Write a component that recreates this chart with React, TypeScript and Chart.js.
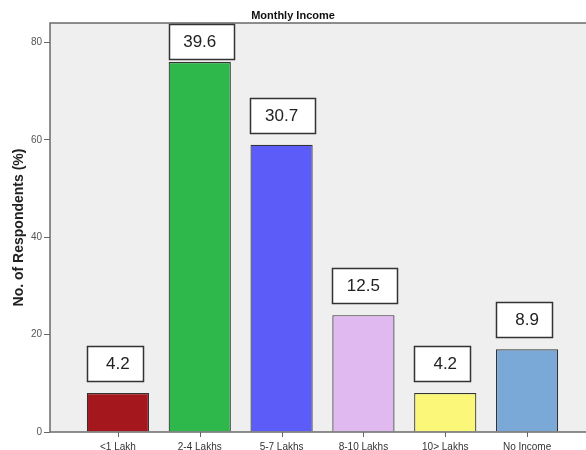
import React, { useEffect, useRef } from "react";
import { Chart, registerables } from "chart.js";

Chart.register(...registerables);

const categories = ["<1 Lakh", "2-4 Lakhs", "5-7 Lakhs", "8-10 Lakhs", "10> Lakhs", "No Income"];
const respondents = [8, 76, 59, 24, 8, 17];
const percentLabels = ["4.2", "39.6", "30.7", "12.5", "4.2", "8.9"];
const barColors = ["#a4171c", "#2eb84b", "#5c5cf8", "#e0b9f1", "#faf779", "#7aa8d7"];
const yTicks = [0, 20, 40, 60, 80];

const FONT = '"Liberation Sans", Arial, sans-serif';

const plotBackground = {
  id: "plotBackground",
  beforeDraw(chart: any) {
    const { ctx, chartArea: a } = chart;
    ctx.save();
    ctx.fillStyle = "#efefef";
    ctx.fillRect(a.left, a.top, a.right - a.left, a.bottom - a.top);
    ctx.restore();
  },
};

const plotFrame = {
  id: "plotFrame",
  afterDatasetsDraw(chart: any) {
    const { ctx, chartArea: a } = chart;
    const xs = chart.scales.x;
    ctx.save();
    ctx.strokeStyle = "#6a6a6a";
    ctx.lineWidth = 1.5;
    ctx.beginPath();
    ctx.moveTo(a.left, a.bottom);
    ctx.lineTo(a.left, a.top);
    ctx.lineTo(a.right, a.top);
    ctx.moveTo(a.left, a.bottom);
    ctx.lineTo(a.right, a.bottom);
    ctx.stroke();
    ctx.strokeStyle = "#666";
    ctx.lineWidth = 1;
    ctx.beginPath();
    categories.forEach((_, i) => {
      const px = Math.round(xs.getPixelForValue(i)) + 0.5;
      ctx.moveTo(px, a.bottom);
      ctx.lineTo(px, a.bottom + 5);
    });
    ctx.stroke();
    ctx.restore();
  },
};

const valueBoxes = {
  id: "valueBoxes",
  afterDatasetsDraw(chart: any) {
    const { ctx, chartArea: a } = chart;
    const meta = chart.getDatasetMeta(0);
    ctx.save();
    ctx.font = `17px ${FONT}`;
    meta.data.forEach((bar: any, i: number) => {
      const { x, y, width } = bar.getProps(["x", "y", "width"], true);
      const text = percentLabels[i];
      const tw = ctx.measureText(text).width;
      const bw = Math.round(tw + 32);
      const bh = 35;
      let top = Math.round(y - 12 - bh);
      if (top < a.top + 1) top = Math.round(a.top + 1);
      const left = Math.round(x - width / 2);
      ctx.fillStyle = "#ffffff";
      ctx.fillRect(left, top, bw, bh);
      ctx.strokeStyle = "#333333";
      ctx.lineWidth = 1.5;
      ctx.strokeRect(left + 0.5, top + 0.5, bw, bh);
      ctx.fillStyle = "#222222";
      ctx.textAlign = "center";
      ctx.textBaseline = "middle";
      ctx.fillText(text, x, top + bh / 2 + 1);
    });
    ctx.restore();
  },
};

export default function App() {
  const canvasRef = useRef<HTMLCanvasElement | null>(null);

  useEffect(() => {
    if (!canvasRef.current) return;
    const chart = new Chart(canvasRef.current, {
      type: "bar",
      data: {
        datasets: [
          {
            label: "Monthly Income",
            data: respondents.map((v, i) => ({ x: i, y: v })),
            backgroundColor: barColors,
            borderColor: "#333333",
            borderWidth: 1.2,
            barPercentage: 0.76,
            categoryPercentage: 1,
          },
        ],
      },
      options: {
        responsive: false,
        animation: false,
        layout: { padding: 0 },
        plugins: {
          legend: { display: false },
          tooltip: { enabled: false },
          title: {
            display: true,
            text: "Monthly Income",
            color: "#111",
            font: { family: FONT, size: 11, weight: "bold" },
            padding: { top: 9.5, bottom: 0.3 },
          },
        },
        scales: {
          x: {
            type: "linear",
            min: -0.83,
            max: 5.72,
            offset: false,
            afterBuildTicks: (scale: any) => {
              scale.ticks = categories.map((_, i) => ({ value: i }));
            },
            afterFit: (scale: any) => {
              scale.height = 18;
            },
            ticks: {
              autoSkip: false,
              maxRotation: 0,
              includeBounds: false,
              padding: 4,
              color: "#333",
              font: { family: FONT, size: 10 },
              callback: (v: any) => categories[v] ?? "",
            },
            grid: {
              display: true,
              offset: false,
              drawOnChartArea: false,
              drawTicks: true,
              tickLength: 5,
              color: "rgba(0,0,0,0)",
            },
            border: { display: false },
          },
          y: {
            min: 0,
            max: 84,
            afterBuildTicks: (scale: any) => {
              scale.ticks = yTicks.map((v) => ({ value: v }));
            },
            afterFit: (scale: any) => {
              scale.width = 50;
            },
            ticks: {
              includeBounds: false,
              padding: 2,
              color: "#555",
              font: { family: FONT, size: 10 },
            },
            grid: {
              display: true,
              drawOnChartArea: false,
              drawTicks: true,
              tickLength: 6,
              color: "#666",
            },
            border: { display: false },
            title: {
              display: true,
              text: "No. of Respondents (%)",
              color: "#222",
              font: { family: FONT, size: 14, weight: "bold" },
              padding: { top: 11, bottom: 0 },
            },
          },
        },
      },
      plugins: [plotBackground, plotFrame, valueBoxes],
    } as any);
    return () => chart.destroy();
  }, []);

  return (
    <div style={{ position: "absolute", left: 0, top: 0, width: 586, height: 450 }}>
      <canvas ref={canvasRef} width={586} height={450} style={{ display: "block" }} />
    </div>
  );
}
